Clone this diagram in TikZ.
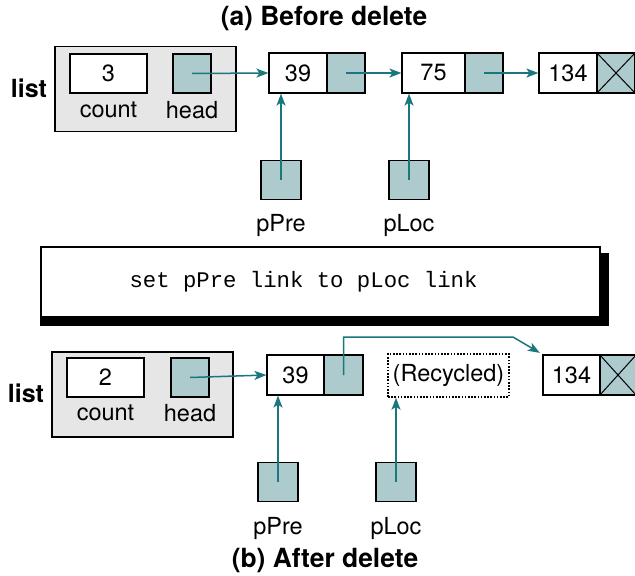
\documentclass[tikz,border=0pt]{standalone}
\usepackage{fontspec}
\setmainfont{TeX Gyre Heros}
\setmonofont{Liberation Mono}
\usetikzlibrary{positioning,arrows.meta}
\definecolor{linkfill}{HTML}{ADCACD}
\definecolor{ptrteal}{HTML}{19777D}
\definecolor{hdrgray}{HTML}{E6E6E6}
\tikzset{
  txt/.style={font=\fontsize{23.5}{28}\selectfont},
  cell/.style={draw,line width=1.2pt,inner sep=0pt,minimum height=40pt,txt},
  datacell/.style={cell,fill=white,minimum width=58pt},
  linkcell/.style={cell,fill=linkfill,minimum width=38pt},
  ptrbox/.style={cell,fill=linkfill,minimum width=40pt,minimum height=39pt},
  hdrbox/.style={draw,line width=1.2pt,fill=hdrgray,minimum width=181pt,minimum height=85pt},
  ptr/.style={draw=ptrteal,line width=1.5pt,-{Stealth[length=12pt,width=9pt,inset=3pt]}},
  title/.style={font=\fontsize{26.4}{30}\selectfont\bfseries},
  listname/.style={font=\fontsize{25}{30}\selectfont\bfseries},
}
\begin{document}
\begin{tikzpicture}[x=1pt,y=-1pt]
  \useasboundingbox (0,0) rectangle (635,576);
  % (a) before delete
  \node[title] (ttlA) at (324,19) {(a) Before delete};
  \node[listname] (nameA) at (29,88) {list};
  \node[hdrbox] (listA) at (145.5,89) {};
  \node[datacell,minimum width=77pt,minimum height=39pt] (cntA) at (108.5,73.5) {3};
  \node[linkcell,minimum height=39pt] (headA) at (192,73.5) {};
  \node[txt] (cntlblA) at (108.5,110) {count};
  \node[txt] (headlblA) at (192,110) {head};
  \node[datacell] (d39A) at (298,73) {39};
  \node[linkcell] (l39A) at (346,73) {};
  \node[datacell,minimum width=63pt] (d75A) at (433.5,73) {75};
  \node[linkcell] (l75A) at (484,73) {};
  \node[datacell] (d134A) at (568,73) {134};
  \node[linkcell] (x134A) at (616,73) {};
  \draw[line width=1pt] (x134A.north west) -- (x134A.south east)
                        (x134A.south west) -- (x134A.north east);
  \node[ptrbox] (pPreA) at (281,180) {};
  \node[ptrbox] (pLocA) at (409,180) {};
  \node[txt] (preLblA) at (281,225) {pPre};
  \node[txt] (locLblA) at (409,225) {pLoc};
  \draw[ptr] (headA.center) -- (d39A.west);
  \draw[ptr] (l39A.center) -- (d75A.west);
  \draw[ptr] (l75A.center) -- (d134A.west);
  \draw[ptr] (pPreA.center) -- (pPreA |- d39A.south);
  \draw[ptr] (pLocA.center) -- (pLocA |- d75A.south);

  % the step between
  \node[draw,line width=1.2pt,fill=white,minimum width=559pt,minimum height=70pt,
        font=\fontsize{22.3}{26}\selectfont\ttfamily] (cmd) at (320.5,282)
    {\hspace*{-34pt}set pPre link to pLoc link};
  \fill (cmd.south west) rectangle ([xshift=8pt,yshift=-8pt]cmd.south east);
  \fill ([yshift=-7pt]cmd.north east) rectangle ([xshift=8pt]cmd.south east);

  % (b) after delete
  \node[listname] (nameB) at (26,393) {list};
  \node[hdrbox] (listB) at (142.5,394.5) {};
  \node[datacell,minimum width=77pt,minimum height=39pt] (cntB) at (105.5,377.5) {2};
  \node[linkcell,minimum height=39pt] (headB) at (190,377.5) {};
  \node[txt] (cntlblB) at (105.5,413) {count};
  \node[txt] (headlblB) at (190,413) {head};
  \node[datacell,minimum width=57pt] (d39B) at (295.5,375) {39};
  \node[linkcell,minimum width=39pt] (l39B) at (343.5,375) {};
  \node[cell,fill=white,dash pattern=on 1.6pt off 1.6pt,line width=1.5pt,
        minimum width=121pt,minimum height=43pt] (recyc) at (448.5,375.5) {(Recycled)};
  \node[datacell,minimum width=57pt] (d134B) at (571.5,375) {134};
  \node[linkcell,minimum width=36pt] (x134B) at (618,375) {};
  \draw[line width=1pt] (x134B.north west) -- (x134B.south east)
                        (x134B.south west) -- (x134B.north east);
  \coordinate (bendB) at (513,337);
  \node[ptrbox] (pPreB) at (278,482) {};
  \node[ptrbox] (pLocB) at (396,482) {};
  \node[txt] (preLblB) at (278,528) {pPre};
  \node[txt] (locLblB) at (396,528) {pLoc};
  \draw[ptr] (headB.center) -- (d39B.west);
  \draw[ptr,shorten >=3pt] (l39B.center) |- (bendB) -- (d134B.north west);
  \draw[ptr] (pPreB.center) -- (pPreB |- d39B.south);
  \draw[ptr] (pLocB.center) -- (pLocB |- recyc.south);
  \node[title] (ttlB) at (325,561) {(b) After delete};
\end{tikzpicture}
\end{document}
